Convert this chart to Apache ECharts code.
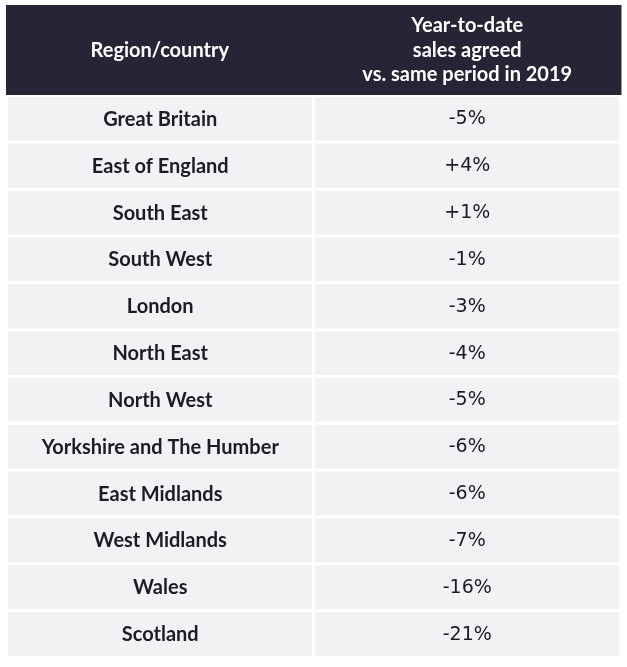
<!DOCTYPE html>
<html lang="en">
<head>
    <meta charset="UTF-8">
    <title>Sales agreed by region</title>
    <style>
        *{
            margin: 0;
            padding: 0;
        }
        body{
            background: #FFFFFF;
        }
        #main{
            width: 627px;
            height: 667px;
        }
    </style>
</head>
<body>
<div id="main"></div>
<script src="https://cdn.jsdelivr.net/npm/echarts@6/dist/echarts.min.js"></script>
<script>
    // table data
    let regions = ['Great Britain', 'East of England', 'South East', 'South West', 'London', 'North East',
        'North West', 'Yorkshire and The Humber', 'East Midlands', 'West Midlands', 'Wales', 'Scotland'];
    let changes = [-5, 4, 1, -1, -3, -4, -5, -6, -6, -7, -16, -21];
    let columns = ['Region/country', 'Year-to-date\nsales agreed\nvs. same period in 2019'];

    function fmt(v){
        return (v > 0 ? '+' : '') + v + '%';
    }

    let headData = [];
    for(let i = 0;i<columns.length;i++){
        headData.push([i, 0, columns[i]]);
    }
    let bodyData = [];
    for(let i = 0;i<regions.length;i++){
        bodyData.push([0, i, regions[i]]);
        bodyData.push([1, i, fmt(changes[i])]);
    }

    let myChart = echarts.init(document.getElementById('main'));

    function headCell(params, api){
        let c = api.coord([api.value(0), api.value(1)]);
        let s = api.size([1, 1]);
        return {
            type: 'group',
            children: [{
                type: 'rect',
                shape: {x: c[0] - s[0] / 2, y: c[1] - s[1] / 2, width: s[0] + 0.5, height: s[1]},
                style: {fill: '#262535'}
            }, {
                type: 'text',
                x: c[0],
                y: c[1] + 0.5,
                style: {
                    text: api.value(2),
                    fill: '#FFFFFF',
                    font: 'bold 20px Lato',
                    lineHeight: 24.5,
                    align: 'center',
                    verticalAlign: 'middle'
                }
            }]
        };
    }

    function bodyCell(params, api){
        let col = api.value(0);
        let c = api.coord([col, api.value(1)]);
        let s = api.size([1, 1]);
        return {
            type: 'group',
            children: [{
                type: 'rect',
                shape: {
                    x: c[0] - s[0] / 2 + (col == 0 ? 2 : 1.5),
                    y: c[1] - s[1] / 2,
                    width: s[0] - 3.5,
                    height: s[1] - 3
                },
                style: {fill: '#F2F2F4'}
            }, {
                type: 'text',
                x: c[0] + (col == 0 ? 0.5 : 0),
                y: c[1] - 1,
                style: {
                    text: api.value(2),
                    fill: '#1C1B26',
                    font: col == 0 ? 'bold 20px Lato' : '400 19px "DejaVu Sans"',
                    align: 'center',
                    verticalAlign: 'middle'
                }
            }]
        };
    }

    myChart.setOption({
        animation: false,
        grid: [
            {left: 6, right: 6, top: 5, height: 90},
            {left: 6, right: 6, top: 97, bottom: 8}
        ],
        xAxis: [
            {type: 'category', gridIndex: 0, data: [0, 1], show: false},
            {type: 'category', gridIndex: 1, data: [0, 1], show: false}
        ],
        yAxis: [
            {type: 'category', gridIndex: 0, data: [0], show: false},
            {type: 'category', gridIndex: 1, data: regions, inverse: true, show: false}
        ],
        series: [{
            type: 'custom',
            xAxisIndex: 0,
            yAxisIndex: 0,
            renderItem: headCell,
            data: headData
        }, {
            type: 'custom',
            xAxisIndex: 1,
            yAxisIndex: 1,
            renderItem: bodyCell,
            data: bodyData
        }]
    });
</script>
</body>
</html>
